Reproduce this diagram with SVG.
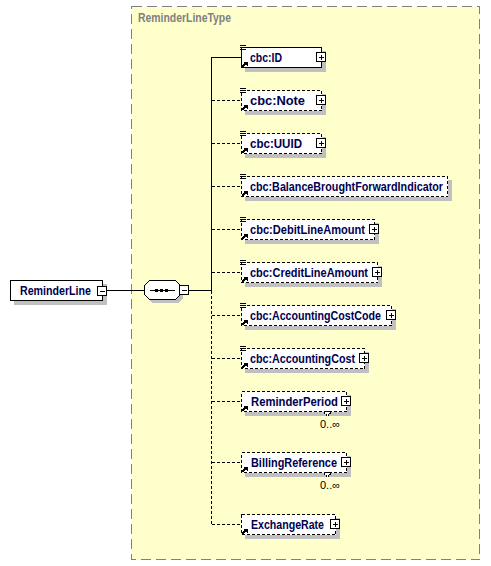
<svg xmlns="http://www.w3.org/2000/svg" width="491" height="566" viewBox="0 0 491 566">
<defs>
<style>
.bg{fill:#ffffcc;stroke:#808080;stroke-width:1;stroke-dasharray:10,5}
.shadow{fill:#c0c0c0;stroke:none}
.box{fill:#ffffff;stroke:#000;stroke-width:1}
.opt{stroke-dasharray:3,2}
.pm{fill:#fff;stroke:#000;stroke-width:1}
.ln{fill:none;stroke:#000;stroke-width:1}
.dash{stroke-dasharray:3,2}
.t{font-family:"Liberation Sans",Arial,sans-serif;font-size:12px;font-weight:bold;fill:#000050}
.title{font-family:"Liberation Sans",Arial,sans-serif;font-size:12px;font-weight:bold;fill:#808080}
.occ{font-family:"Liberation Sans",Arial,sans-serif;font-size:11px;fill:#000}
g,rect,path,polygon,line{shape-rendering:crispEdges}
</style>
<g id="doc"><path d="M240 45.5H246M240 47.5H246M240 49.5H246" class="ln"/></g>
<g id="ref"><path d="M242 67L246 63" stroke="#000" stroke-width="2" fill="none"/><path d="M243 62H247.5V66.5Z" fill="#000"/></g>
<g id="plus"><rect x="-4.5" y="-4.5" width="9" height="9" class="pm"/><path d="M-2.5 0H2.5M0 -2.5V2.5" class="ln"/></g>
<g id="minus"><rect x="-4.5" y="-4.5" width="9" height="9" class="pm"/><path d="M-2.5 0H2.5" class="ln"/></g>
</defs>
<rect x="0" y="0" width="491" height="566" fill="#fff"/>
<g id="type">
<rect x="131.5" y="6.5" width="348" height="553" class="bg"/>
<text x="138" y="22" class="title" textLength="93" lengthAdjust="spacingAndGlyphs">ReminderLineType</text>
</g>
<g id="connectors">
<path d="M107 290.5H144" class="ln"/>
<path d="M189 290.5H211.5V57.5H241" class="ln"/>
<path d="M211.5 290.5V524.5" class="ln dash"/>
<path d="M211.5 100.5H241M211.5 143.5H241M211.5 186.5H241M211.5 229.5H241M211.5 272.5H241M211.5 315.5H241M211.5 358.5H241M211.5 401.5H241M211.5 462.5H241M211.5 524.5H241" class="ln dash"/>
</g>
<g id="ReminderLine">
<rect x="14" y="284" width="93" height="21" class="shadow"/>
<rect x="10.5" y="280.5" width="92" height="20" class="box"/>
<text x="20" y="295" class="t" textLength="71" lengthAdjust="spacingAndGlyphs">ReminderLine</text>
<use href="#minus" x="102" y="291"/>
</g>
<g id="sequence">
<polygon points="152,284 178,284 183,289 183,298 178,303 152,303 147,298 147,289" class="shadow"/>
<polygon points="149.5,280.5 175.5,280.5 180.5,285.5 180.5,294.5 175.5,299.5 149.5,299.5 144.5,294.5 144.5,285.5" class="box"/>
<path d="M150 290.5H175" class="ln"/>
<rect x="155" y="289" width="3" height="3" fill="#000"/>
<rect x="160" y="289" width="3" height="3" fill="#000"/>
<rect x="165" y="289" width="3" height="3" fill="#000"/>
<use href="#minus" x="184" y="290"/>
</g>
<g id="cbc-ID">
<rect x="245" y="51" width="81" height="21" class="shadow"/>
<rect x="241.5" y="47.5" width="80" height="20" class="box"/>
<use href="#doc"/><use href="#ref"/>
<text x="250" y="62" class="t" textLength="32" lengthAdjust="spacingAndGlyphs">cbc:ID</text>
<use href="#plus" x="321" y="57"/>
</g>
<g id="cbc-Note" transform="translate(0,43)">
<rect x="245" y="51" width="81" height="21" class="shadow"/>
<rect x="241.5" y="47.5" width="80" height="20" class="box opt"/>
<use href="#doc"/><use href="#ref"/>
<text x="250" y="62" class="t" textLength="55" lengthAdjust="spacingAndGlyphs">cbc:Note</text>
<use href="#plus" x="321" y="57"/>
</g>
<g id="cbc-UUID" transform="translate(0,86)">
<rect x="245" y="51" width="81" height="21" class="shadow"/>
<rect x="241.5" y="47.5" width="80" height="20" class="box opt"/>
<use href="#doc"/><use href="#ref"/>
<text x="250" y="62" class="t" textLength="52" lengthAdjust="spacingAndGlyphs">cbc:UUID</text>
<use href="#plus" x="321" y="57"/>
</g>
<g id="cbc-BalanceBroughtForwardIndicator" transform="translate(0,129)">
<rect x="245" y="51" width="207" height="21" class="shadow"/>
<rect x="241.5" y="47.5" width="206" height="20" class="box opt"/>
<use href="#doc"/><use href="#ref"/>
<text x="250" y="62" class="t" textLength="193" lengthAdjust="spacingAndGlyphs">cbc:BalanceBroughtForwardIndicator</text>
</g>
<g id="cbc-DebitLineAmount" transform="translate(0,172)">
<rect x="245" y="51" width="134" height="21" class="shadow"/>
<rect x="241.5" y="47.5" width="133" height="20" class="box opt"/>
<use href="#doc"/><use href="#ref"/>
<text x="250" y="62" class="t" textLength="115" lengthAdjust="spacingAndGlyphs">cbc:DebitLineAmount</text>
<use href="#plus" x="374" y="57"/>
</g>
<g id="cbc-CreditLineAmount" transform="translate(0,215)">
<rect x="245" y="51" width="137" height="21" class="shadow"/>
<rect x="241.5" y="47.5" width="136" height="20" class="box opt"/>
<use href="#doc"/><use href="#ref"/>
<text x="250" y="62" class="t" textLength="118" lengthAdjust="spacingAndGlyphs">cbc:CreditLineAmount</text>
<use href="#plus" x="377" y="57"/>
</g>
<g id="cbc-AccountingCostCode" transform="translate(0,258)">
<rect x="245" y="51" width="151" height="21" class="shadow"/>
<rect x="241.5" y="47.5" width="150" height="20" class="box opt"/>
<use href="#doc"/><use href="#ref"/>
<text x="250" y="62" class="t" textLength="131" lengthAdjust="spacingAndGlyphs">cbc:AccountingCostCode</text>
<use href="#plus" x="391" y="57"/>
</g>
<g id="cbc-AccountingCost" transform="translate(0,301)">
<rect x="245" y="51" width="124" height="21" class="shadow"/>
<rect x="241.5" y="47.5" width="123" height="20" class="box opt"/>
<use href="#doc"/><use href="#ref"/>
<text x="250" y="62" class="t" textLength="105" lengthAdjust="spacingAndGlyphs">cbc:AccountingCost</text>
<use href="#plus" x="364" y="57"/>
</g>
<g id="ReminderPeriod" transform="translate(0,344)">
<rect x="245" y="51" width="106" height="21" class="shadow"/>
<rect x="241.5" y="47.5" width="105" height="20" class="box opt"/>
<polygon points="323.5,67.5 331.5,67.5 327.5,72.5" fill="#fff" stroke="#000" stroke-dasharray="2,1"/>
<use href="#ref"/>
<text x="251" y="62" class="t" textLength="87" lengthAdjust="spacingAndGlyphs">ReminderPeriod</text>
<use href="#plus" x="346" y="57"/>
<text x="320" y="84" class="occ">0..∞</text>
</g>
<g id="BillingReference" transform="translate(0,405)">
<rect x="245" y="51" width="106" height="21" class="shadow"/>
<rect x="241.5" y="47.5" width="105" height="20" class="box opt"/>
<polygon points="323.5,67.5 331.5,67.5 327.5,72.5" fill="#fff" stroke="#000" stroke-dasharray="2,1"/>
<use href="#ref"/>
<text x="251" y="62" class="t" textLength="86" lengthAdjust="spacingAndGlyphs">BillingReference</text>
<use href="#plus" x="346" y="57"/>
<text x="320" y="84" class="occ">0..∞</text>
</g>
<g id="ExchangeRate" transform="translate(0,467)">
<rect x="245" y="51" width="95" height="21" class="shadow"/>
<rect x="241.5" y="47.5" width="94" height="20" class="box opt"/>
<use href="#ref"/>
<text x="251" y="62" class="t" textLength="73" lengthAdjust="spacingAndGlyphs">ExchangeRate</text>
<use href="#plus" x="335" y="57"/>
</g>
</svg>
